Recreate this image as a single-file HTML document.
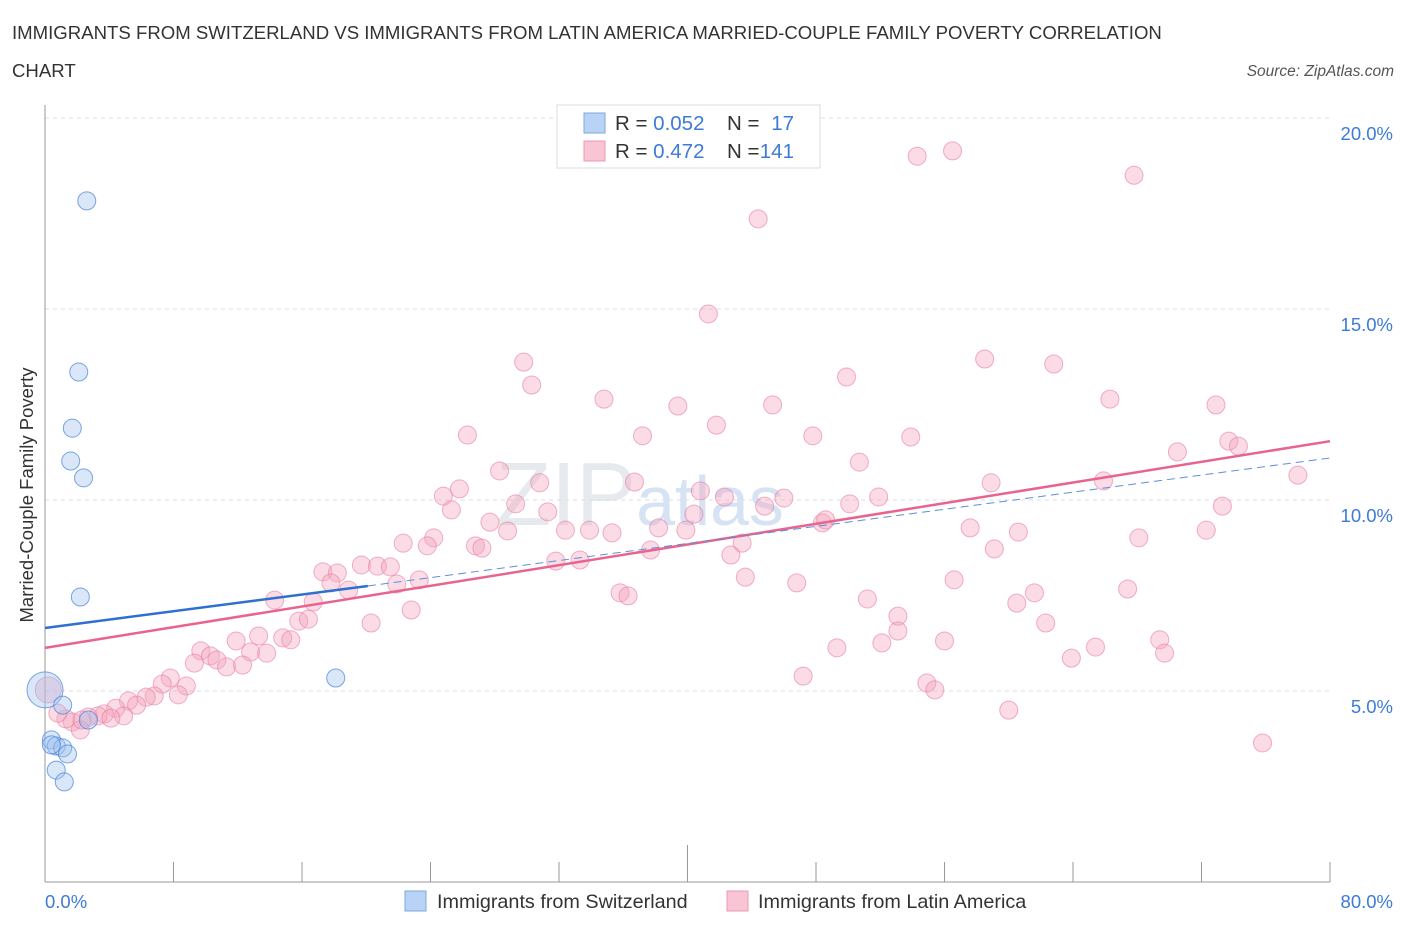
<!DOCTYPE html>
<html><head><meta charset="utf-8"><style>
body{margin:0;background:#fff;font-family:"Liberation Sans",sans-serif;}
svg text{font-family:"Liberation Sans",sans-serif;}
</style></head><body>
<svg id="c" width="1406" height="930" xmlns="http://www.w3.org/2000/svg">
<text x="12" y="39" font-size="18.6" fill="#333">IMMIGRANTS FROM SWITZERLAND VS IMMIGRANTS FROM LATIN AMERICA MARRIED-COUPLE FAMILY POVERTY CORRELATION</text>
<text x="12" y="77" font-size="18.6" fill="#333">CHART</text>
<text x="1394" y="76" font-size="15.5" fill="#555" font-style="italic" text-anchor="end">Source: ZipAtlas.com</text>
<text x="640" y="525" font-size="90" fill="#e6e9ee" font-family="Liberation Serif" text-anchor="middle">ZIP<tspan fill="#d6e3f5" font-family="Liberation Sans" font-size="70">atlas</tspan></text>
<text x="33" y="495" font-size="18.5" fill="#333" transform="rotate(-90 33 495)" text-anchor="middle">Married-Couple Family Poverty</text>
<g id="grid"></g><g id="marks"></g>
<g>
<rect x="557" y="105" width="263" height="63" fill="#fff" stroke="#ddd"/>
<rect x="584" y="113" width="21" height="20" fill="#b8d3f5" stroke="#7ba7e0"/>
<rect x="584" y="141" width="21" height="20" fill="#f9c4d4" stroke="#eb9ab4"/>
<text x="615" y="130" font-size="20.5" fill="#333">R = <tspan fill="#3d7bd6">0.052</tspan></text>
<text x="727" y="130" font-size="20.5" fill="#333">N =</text><text x="794" y="130" font-size="20.5" fill="#3d7bd6" text-anchor="end">17</text>
<text x="615" y="158" font-size="20.5" fill="#333">R = <tspan fill="#3d7bd6">0.472</tspan></text>
<text x="727" y="158" font-size="20.5" fill="#333">N = </text><text x="794" y="158" font-size="20.5" fill="#3d7bd6" text-anchor="end">141</text>
</g>
<g>
<rect x="405" y="891" width="21" height="20" fill="#b8d3f5" stroke="#7ba7e0"/>
<text x="437" y="908" font-size="19.8" fill="#333">Immigrants from Switzerland</text>
<rect x="727" y="891" width="21" height="20" fill="#f9c4d4" stroke="#eb9ab4"/>
<text x="758" y="908" font-size="19.8" fill="#333">Immigrants from Latin America</text>
</g>
</svg>
<script>
const xTicks=[0,80];
const yTicks=[5,10,15,20];
const pinkX=[54.3,56.5,67.8,44.4,41.3,58.5,62.8,29.8,30.3,49.9,34.8,39.4,45.3,66.3,72.9,26.3,37.2,41.8,47.8,53.9,73.7,74.3,70.5,50.7,28.3,30.8,78.0,36.7,24.8,25.8,40.8,42.3,46.0,51.9,58.9,65.9,29.3,25.3,31.3,40.4,44.8,50.1,73.3,27.7,32.4,33.9,38.2,39.9,24.2,28.8,48.4,48.6,57.6,60.6,72.3,22.3,23.8,26.8,27.2,35.3,43.4,68.1,37.7,42.7,31.8,33.3,59.1,17.3,18.2,19.7,20.7,21.5,17.8,21.9,23.3,18.9,43.6,56.6,35.8,36.3,46.8,67.4,61.6,14.3,16.7,22.8,51.2,60.5,53.1,15.8,16.4,20.3,62.3,53.1,14.8,15.3,11.9,9.7,10.3,13.3,12.8,13.8,10.7,11.3,12.3,9.3,49.3,52.1,56.0,65.4,69.4,69.7,63.9,47.2,7.8,8.8,7.3,8.3,6.8,5.2,6.3,5.7,4.4,3.7,3.3,4.9,2.7,4.1,54.9,55.4,60.0,75.8,1.7,1.3,0.8,2.2,2.3,0.2];
const pinkY=[19.0,19.14,18.5,17.36,14.87,13.69,13.56,13.61,13.01,13.22,12.64,12.46,12.49,12.64,12.49,11.70,11.68,11.96,11.68,11.65,11.54,11.41,11.26,10.99,10.76,10.45,10.65,10.47,10.10,10.29,10.24,10.08,10.05,10.08,10.45,10.50,9.90,9.74,9.69,9.63,9.84,9.90,9.84,9.42,9.21,9.21,9.27,9.21,9.01,9.19,9.40,9.48,9.27,9.16,9.21,8.87,8.80,8.80,8.74,9.14,8.87,9.01,8.69,8.56,8.40,8.43,8.72,8.12,8.09,8.30,8.27,8.25,7.83,7.80,7.91,7.64,7.98,7.91,7.57,7.49,7.83,7.67,7.57,7.38,7.33,7.12,7.41,7.30,6.96,6.83,6.88,6.78,6.78,6.57,6.39,6.34,6.31,6.05,5.92,6.44,6.02,5.99,5.81,5.63,5.68,5.73,6.13,6.26,6.31,6.15,6.34,5.99,5.86,5.39,5.34,5.13,5.18,4.90,4.87,4.74,4.84,4.63,4.55,4.40,4.35,4.35,4.32,4.29,5.21,5.03,4.50,3.64,4.19,4.27,4.42,3.98,4.24,5.03];
const blueX=[2.6,2.1,1.7,1.6,2.4,2.2,18.1,0.0,1.1,2.7,0.4,0.7,1.1,1.4,0.7,1.2,0.4];
const blueY=[17.83,13.35,11.88,11.02,10.58,7.46,5.34,5.03,4.63,4.24,3.72,3.56,3.51,3.35,2.93,2.62,3.59];
const pinkLine=[6.13,11.54];
const blueLine=[6.65,7.75,11.1];
const blueSolidEnd=20.1;
const NS='http://www.w3.org/2000/svg';
const X=v=>45+v*1285/80, Y=v=>882-v*38.2;
function mk(t,a,p){const e=document.createElementNS(NS,t);for(const k in a)e.setAttribute(k,a[k]);p.appendChild(e);return e;}
const g=document.getElementById('grid'),m=document.getElementById('marks');
yTicks.forEach(t=>{const l=mk('line',{x1:45,x2:1330,y1:Y(t),y2:Y(t),stroke:'#ddd','stroke-dasharray':'4,4'},g);


const tx=mk('text',{x:1393,y:Y(t)+22,'font-size':18.5,fill:'#3d7bd6','text-anchor':'end'},g);tx.textContent=t.toFixed(1)+'%';

});
mk('line',{x1:45,x2:45,y1:105,y2:882,stroke:'#999'},g);
mk('line',{x1:45,x2:1330,y1:882,y2:882,stroke:'#999'},g);
for(let i=0;i<=10;i++){const t=mk('line',{x1:X(i*8),x2:X(i*8),y1:i==5?845:862,y2:882,stroke:'#999'},g);

}
xTicks.forEach((t,i)=>{const tx=mk('text',{x:i?1393:45,y:908,'font-size':18.5,fill:'#3d7bd6','text-anchor':i?'end':'start'},g);tx.textContent=t.toFixed(1)+'%';

});
pinkX.forEach((x,i)=>{const c=mk('circle',{cx:X(x),cy:Y(pinkY[i]),r:x<0.5?13:9,fill:'rgba(245,165,190,0.4)',stroke:'rgba(232,125,160,0.6)'},m);

});
blueX.forEach((x,i)=>{const c=mk('circle',{cx:X(x),cy:Y(blueY[i]),r:x<0.05?18:9,fill:'rgba(160,195,240,0.4)',stroke:'rgba(70,130,215,0.7)'},m);

});
let l=mk('line',{x1:X(0),y1:Y(pinkLine[0]),x2:X(80),y2:Y(pinkLine[1]),stroke:'#e8648f','stroke-width':2.5},m);


l=mk('line',{x1:X(0),y1:Y(blueLine[0]),x2:X(blueSolidEnd),y2:Y(blueLine[1]),stroke:'#2f6fd0','stroke-width':2.5},m);


l=mk('line',{x1:X(blueSolidEnd),y1:Y(blueLine[1]),x2:X(80),y2:Y(blueLine[2]),stroke:'#5b8fd8','stroke-width':1,'stroke-dasharray':'8,5'},m);


</script>
</body></html>
